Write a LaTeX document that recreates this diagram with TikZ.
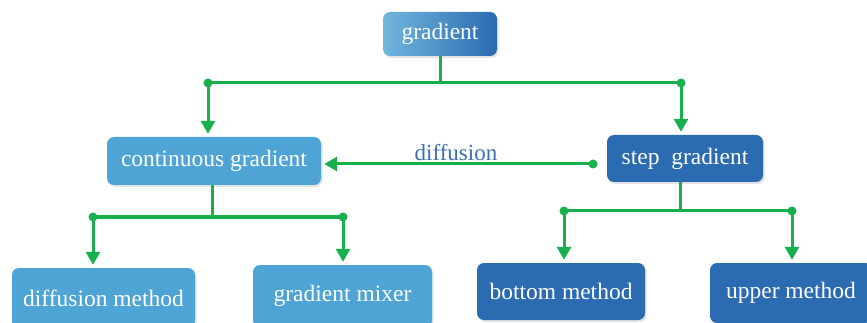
\documentclass[tikz,border=0pt]{standalone}
\usepackage{fontspec}
\setmainfont{Liberation Serif}
\usetikzlibrary{arrows.meta,shadows}
\definecolor{linkgreen}{RGB}{24,176,76}
\definecolor{lightbox}{RGB}{78,164,212}
\definecolor{darkbox}{RGB}{42,107,178}
\definecolor{labelblue}{RGB}{60,110,180}
\tikzset{
  box/.style={rounded corners=7pt, text=white, inner sep=0pt,
    font=\fontsize{23.5}{28}\selectfont,
    drop shadow={opacity=0.22, shadow xshift=1.5pt, shadow yshift=-2pt}},
  lightnode/.style={box, fill=lightbox},
  darknode/.style={box, fill=darkbox},
  topnode/.style={box, left color=lightbox!80!white, right color=darkbox},
  link/.style={draw=linkgreen, line width=3pt},
  arr/.style={link, -{Triangle[width=14pt,length=13pt]}, shorten >=3pt},
  dot/.style={fill=linkgreen, circle, inner sep=0pt, minimum size=9pt}
}
\begin{document}
\begin{tikzpicture}[x=1pt,y=-1pt]
\clip (0,0) rectangle (867,323);

% boxes
\node[topnode, minimum width=114pt, minimum height=44pt] (top) at (440,34) {gradient};
\node[lightnode, minimum width=214pt, minimum height=48pt] (cont) at (214,161) {continuous gradient};
\node[darknode, minimum width=156pt, minimum height=47pt] (step) at (685,158.5) {step\ \ gradient};
\node[lightnode, minimum width=183pt, minimum height=60pt] (diffm) at (103.5,298) {diffusion method};
\node[lightnode, minimum width=179pt, minimum height=62pt] (mixer) at (342.5,296) {gradient mixer};
\node[darknode, minimum width=168pt, minimum height=57pt] (bottom) at (561,291.5) {bottom method};
\node[darknode, minimum width=162pt, minimum height=60pt] (upper) at (791,293) {upper method};

% junction points
\coordinate (tj) at (440,83);
\coordinate (tl) at (208,83);
\coordinate (tr) at (681,83);
\coordinate (cj) at (212,217);
\coordinate (cl) at (93,217);
\coordinate (cr) at (343,217);
\coordinate (sj) at (680,211);
\coordinate (sl) at (564,211);
\coordinate (sr) at (792,211);
\coordinate (dj) at (593,164);

% top level
\draw[link] (top.south) -- (tj);
\draw[link] (tl) -- (tr);
\draw[arr] (tl) -- (cont.north -| tl);
\draw[arr] (tr) -- (step.north -| tr);

% diffusion link
\draw[arr] (dj) -- (cont.east |- dj);
\node[text=labelblue, font=\fontsize{23}{28}\selectfont, inner sep=0pt] (lab) at (456,153) {diffusion};

% continuous gradient children
\draw[link] (cont.south -| cj) -- (cj);
\draw[link] (cl) -- (cr);
\draw[arr] (cl) -- (diffm.north -| cl);
\draw[arr] (cr) -- (mixer.north -| cr);

% step gradient children
\draw[link] (step.south -| sj) -- (sj);
\draw[link] (sl) -- (sr);
\draw[arr] (sl) -- (bottom.north -| sl);
\draw[arr] (sr) -- (upper.north -| sr);

% dots
\foreach \p in {tl,tr,cl,cr,sl,sr,dj}
  \node[dot] at (\p) {};
\end{tikzpicture}
\end{document}
